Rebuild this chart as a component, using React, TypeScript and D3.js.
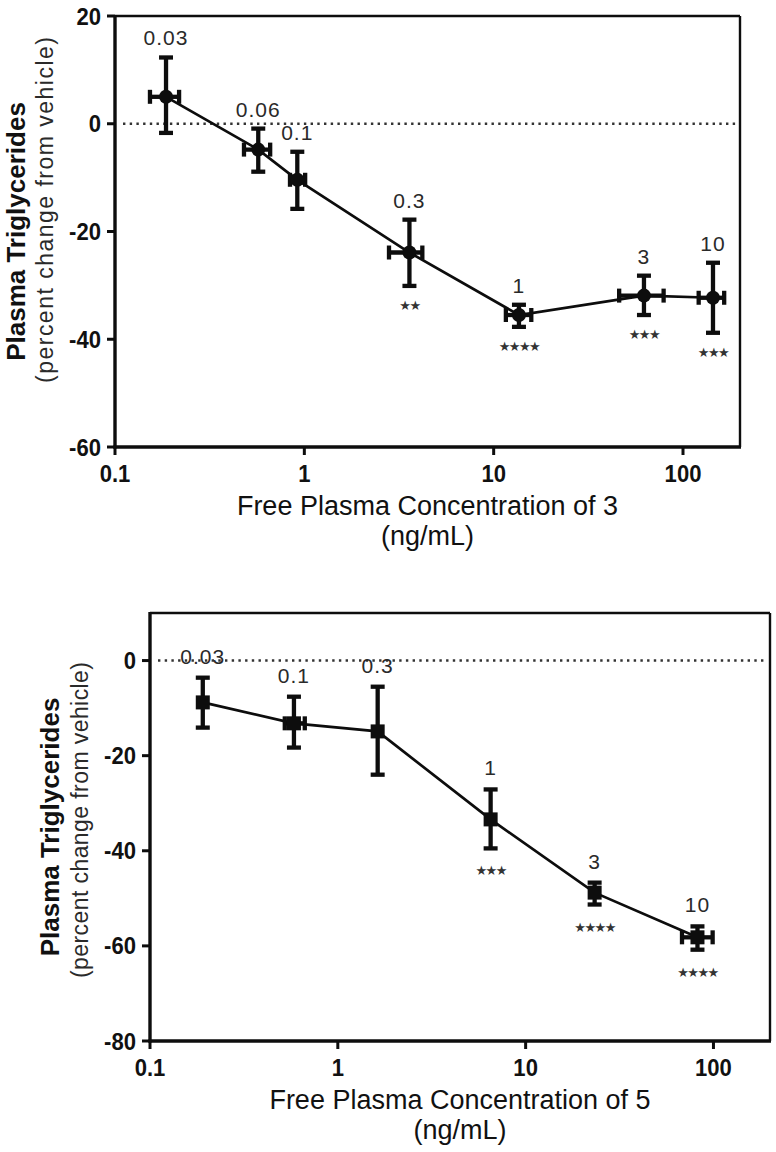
import React from 'react';
import * as d3 from 'd3';

// ---------- shared axis data ----------
const xTickValues = [0.1, 1, 10, 100];
const xTickLabels = ['0.1', '1', '10', '100'];

// ---------- top panel (compound 3) ----------
const topDoses = ['0.03', '0.06', '0.1', '0.3', '1', '3', '10'];
const topConc = [0.186, 0.571, 0.918, 3.59, 13.6, 62.2, 144];
const topConcLo = [0.153, 0.48, 0.84, 2.8, 11.6, 46, 121];
const topConcHi = [0.218, 0.66, 1.01, 4.2, 15.8, 79, 165];
const topMean = [5.0, -4.8, -10.4, -23.9, -35.5, -31.9, -32.3];
const topErrHi = [12.3, -0.9, -5.2, -17.8, -33.6, -28.2, -25.8];
const topErrLo = [-1.7, -8.9, -15.8, -30.1, -37.7, -35.5, -38.8];
const topStars = ['', '', '', '**', '****', '***', '***'];
const topYTicks = [-60, -40, -20, 0, 20];
const topYDomain = [-60, 20];
const topXTitle = 'Free Plasma Concentration of 3';

// ---------- bottom panel (compound 5) ----------
const botDoses = ['0.03', '0.1', '0.3', '1', '3', '10'];
const botConc = [0.191, 0.584, 1.63, 6.51, 23.3, 82.2];
const botConcLo = [0.191, 0.522, 1.63, 6.51, 23.3, 68];
const botConcHi = [0.191, 0.667, 1.63, 6.51, 23.3, 99];
const botMean = [-8.8, -13.2, -14.9, -33.4, -48.8, -58.2];
const botErrHi = [-3.6, -7.6, -5.5, -27.1, -46.7, -55.9];
const botErrLo = [-14.1, -18.3, -24.0, -39.5, -51.3, -60.8];
const botStars = ['', '', '', '***', '****', '****'];
const botYTicks = [-80, -60, -40, -20, 0];
const botYDomain = [-80, 10];
const botXTitle = 'Free Plasma Concentration of 5';

const yTitle = 'Plasma Triglycerides';
const ySubtitle = '(percent change from vehicle)';
const xUnit = '(ng/mL)';

const FONT = 'Liberation Sans, Arial, Helvetica, sans-serif';
const INK = '#0d0d0d';

type PanelProps = {
  left: number; right: number; top: number; bottom: number;
  yDomain: number[]; yTicks: number[];
  doses: string[]; conc: number[]; concLo: number[]; concHi: number[];
  mean: number[]; errHi: number[]; errLo: number[]; stars: string[];
  marker: 'circle' | 'square';
  xTitle: string;
  yTitleX: number; ySubX: number; ySubLen: number; ySubCenter: number;
  labelGap: number; starGap: number;
};

function Panel(p: PanelProps) {
  const x = d3.scaleLog().domain([0.1, 200]).range([p.left, p.right]);
  const y = d3.scaleLinear().domain(p.yDomain).range([p.bottom, p.top]);
  const pts = p.conc.map((c, i) => ({ c, m: p.mean[i] }));
  const line = d3.line<{ c: number; m: number }>().x(d => x(d.c)).y(d => y(d.m));
  const cap = 7;
  const ew = 4.3;
  const cx = (p.left + p.right) / 2;
  const cy = (p.top + p.bottom) / 2;

  return (
    <g fontFamily={FONT}>
      {/* zero reference line */}
      <line x1={p.left + 8} x2={p.right - 4} y1={y(0)} y2={y(0)}
        stroke="#333" strokeWidth={2.5} strokeDasharray="2.4,4.3" />
      {/* frame */}
      <line x1={p.left} x2={p.right} y1={p.top} y2={p.top} stroke={INK} strokeWidth={2.4} />
      <line x1={p.right} x2={p.right} y1={p.top} y2={p.bottom} stroke={INK} strokeWidth={2.4} />
      <line x1={p.left} x2={p.left} y1={p.top - 1} y2={p.bottom + 1.5} stroke={INK} strokeWidth={3.4} />
      <line x1={p.left - 1.5} x2={p.right + 1} y1={p.bottom} y2={p.bottom} stroke={INK} strokeWidth={3.4} />
      {/* y ticks */}
      {p.yTicks.map(t => (
        <g key={'yt' + t}>
          <line x1={p.left - 8} x2={p.left} y1={y(t)} y2={y(t)} stroke={INK} strokeWidth={3} />
          <text transform={`translate(${p.left - 14},${y(t) + 8.5}) scale(0.92,1)`}
            textAnchor="end" fontSize={24} fontWeight="bold" fill="#111">{t}</text>
        </g>
      ))}
      {/* x ticks */}
      {xTickValues.map((t, i) => (
        <g key={'xt' + t}>
          <line x1={x(t)} x2={x(t)} y1={p.bottom} y2={p.bottom + 8} stroke={INK} strokeWidth={3} />
          <text transform={`translate(${x(t)},${p.bottom + 35}) scale(0.92,1)`}
            textAnchor="middle" fontSize={24} fontWeight="bold" fill="#111">{xTickLabels[i]}</text>
        </g>
      ))}
      {/* axis titles */}
      <text x={cx} y={p.bottom + 68} textAnchor="middle" fontSize={27} fill="#111">{p.xTitle}</text>
      <text x={cx} y={p.bottom + 98} textAnchor="middle" fontSize={27} fill="#111">{xUnit}</text>
      <text transform={`translate(${p.yTitleX},${cy}) rotate(-90)`} textAnchor="middle"
        fontSize={26} fontWeight="bold" fill="#111">{yTitle}</text>
      <text transform={`translate(${p.ySubX},${p.ySubCenter}) rotate(-90)`} textAnchor="middle"
        fontSize={23} fill="#2a2a2a" textLength={p.ySubLen} lengthAdjust="spacing">{ySubtitle}</text>

      {/* connecting line */}
      <path d={line(pts) || ''} fill="none" stroke={INK} strokeWidth={2.7} />

      {/* error bars and markers */}
      {pts.map((d, i) => {
        const px = x(d.c);
        const py = y(d.m);
        const yHi = y(p.errHi[i]);
        const yLo = y(p.errLo[i]);
        const xLo = x(p.concLo[i]);
        const xHi = x(p.concHi[i]);
        const hasX = xHi - xLo > 2;
        return (
          <g key={'pt' + i}>
            <line x1={px} x2={px} y1={yHi} y2={yLo} stroke={INK} strokeWidth={ew} />
            <line x1={px - cap} x2={px + cap} y1={yHi} y2={yHi} stroke={INK} strokeWidth={ew} />
            <line x1={px - cap} x2={px + cap} y1={yLo} y2={yLo} stroke={INK} strokeWidth={ew} />
            {hasX && (
              <g>
                <line x1={xLo} x2={xHi} y1={py} y2={py} stroke={INK} strokeWidth={ew} />
                <line x1={xLo} x2={xLo} y1={py - cap} y2={py + cap} stroke={INK} strokeWidth={ew} />
                <line x1={xHi} x2={xHi} y1={py - cap} y2={py + cap} stroke={INK} strokeWidth={ew} />
              </g>
            )}
            {p.marker === 'circle'
              ? <circle cx={px} cy={py} r={7} fill={INK} />
              : <rect x={px - 7} y={py - 7} width={14} height={14} fill={INK} />}
            <text x={px} y={yHi - p.labelGap} textAnchor="middle" fontSize={21}
              letterSpacing={1} fill="#2a2a2a">{p.doses[i]}</text>
            {p.stars[i] && (
              <text x={px} y={yLo + p.starGap + 5} textAnchor="middle" fontSize={13}
                letterSpacing={-1.5}
                fontFamily="DejaVu Sans, sans-serif" fill="#333">
                {p.stars[i].replace(/\*/g, '\u2605')}
              </text>
            )}
          </g>
        );
      })}
    </g>
  );
}

export default function App() {
  return (
    <svg width={776} height={1152} style={{ position: 'absolute', left: 0, top: 0, background: '#fff' }}>
      <rect x={0} y={0} width={776} height={1152} fill="#fff" />
      <Panel left={115} right={740} top={16} bottom={447}
        yDomain={topYDomain} yTicks={topYTicks}
        doses={topDoses} conc={topConc} concLo={topConcLo} concHi={topConcHi}
        mean={topMean} errHi={topErrHi} errLo={topErrLo} stars={topStars}
        marker="circle" xTitle={topXTitle}
        yTitleX={25} ySubX={53} ySubLen={346} ySubCenter={210}
        labelGap={12} starGap={19} />
      <Panel left={150} right={770} top={613} bottom={1041}
        yDomain={botYDomain} yTicks={botYTicks}
        doses={botDoses} conc={botConc} concLo={botConcLo} concHi={botConcHi}
        mean={botMean} errHi={botErrHi} errLo={botErrLo} stars={botStars}
        marker="square" xTitle={botXTitle}
        yTitleX={59} ySubX={88} ySubLen={316} ySubCenter={820}
        labelGap={14} starGap={22} />
    </svg>
  );
}
